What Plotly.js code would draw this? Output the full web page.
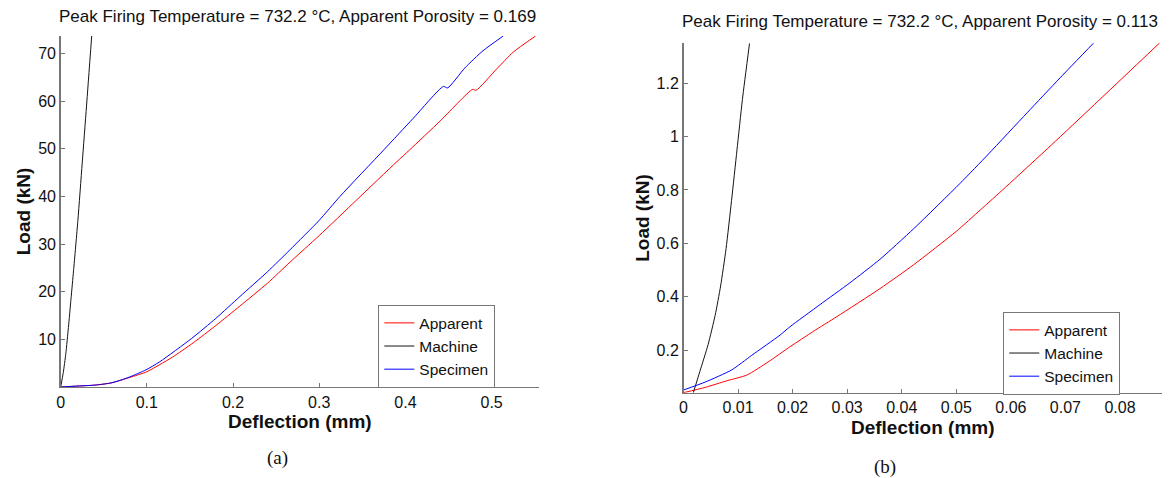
<!DOCTYPE html>
<html>
<head>
<meta charset="utf-8">
<script src="https://cdn.plot.ly/plotly-3.0.1.min.js"></script>
<style>html,body{margin:0;padding:0;background:#fff}#chart{width:1171px;height:478px}</style>
</head>
<body>
<div id="chart"></div>
<script>
// ---- Panel (a): porosity 0.169 ----
const a_app_x = [0, 0.02, 0.04, 0.06, 0.08, 0.1, 0.115, 0.13, 0.154, 0.18, 0.208, 0.24, 0.266, 0.3, 0.343, 0.39, 0.405, 0.44, 0.478, 0.482, 0.506, 0.525, 0.551];
const a_app_y = [0, 0.2, 0.4, 0.9, 2.0, 3.2, 4.7, 6.3, 9.3, 12.9, 17.0, 21.8, 26.2, 31.8, 39.2, 47.3, 49.8, 55.8, 62.5, 62.3, 66.8, 70.3, 73.7];
const a_mac_x = [0, 0.003, 0.006, 0.009, 0.012, 0.015, 0.02, 0.025, 0.03, 0.036];
const a_mac_y = [0, 3, 7, 12.5, 18.5, 24.5, 35, 47, 59, 73.7];
const a_spe_x = [0, 0.02, 0.04, 0.057, 0.069, 0.08, 0.099, 0.115, 0.152, 0.18, 0.208, 0.24, 0.266, 0.3, 0.324, 0.375, 0.409, 0.444, 0.449, 0.469, 0.49, 0.5135];
const a_spe_y = [0, 0.2, 0.4, 0.8, 1.4, 2.1, 3.6, 5.3, 10.2, 14.4, 19.0, 24.2, 28.8, 35.0, 40.0, 49.8, 56.4, 63.1, 62.8, 67.0, 70.6, 73.7];
const a_xticks = [0, 0.1, 0.2, 0.3, 0.4, 0.5];
const a_yticks = [10, 20, 30, 40, 50, 60, 70];

// ---- Panel (b): porosity 0.113 ----
const b_app_x = [0, 0.004, 0.008, 0.0116, 0.0155, 0.0195, 0.0238, 0.0281, 0.036, 0.0422, 0.05, 0.0544, 0.059, 0.0675, 0.0753, 0.0875];
const b_app_y = [0.04, 0.06, 0.085, 0.106, 0.155, 0.212, 0.27, 0.325, 0.43, 0.52, 0.645, 0.725, 0.81, 0.97, 1.12, 1.356];
const b_mac_x = [0.0018, 0.003, 0.0045, 0.0058, 0.0068, 0.0078, 0.0088, 0.0098, 0.0108, 0.0121];
const b_mac_y = [0.04, 0.12, 0.22, 0.33, 0.44, 0.58, 0.76, 0.95, 1.14, 1.35];
const b_spe_x = [0, 0.004, 0.0088, 0.0125, 0.0177, 0.0195, 0.025, 0.0305, 0.036, 0.0422, 0.0507, 0.0559, 0.063, 0.069, 0.0754];
const b_spe_y = [0.05, 0.08, 0.125, 0.18, 0.256, 0.287, 0.37, 0.452, 0.54, 0.655, 0.825, 0.935, 1.09, 1.22, 1.356];
const b_xticks = [0, 0.01, 0.02, 0.03, 0.04, 0.05, 0.06, 0.07, 0.08];
const b_yticks = [0.2, 0.4, 0.6, 0.8, 1, 1.2];

const seriesNames = ['Apparent', 'Machine', 'Specimen'];
const titleA = 'Peak Firing Temperature = 732.2 °C, Apparent Porosity = 0.169';
const titleB = 'Peak Firing Temperature = 732.2 °C, Apparent Porosity = 0.113';
const xTitle = 'Deflection (mm)';
const yTitle = 'Load (kN)';

const RED = 'rgb(255,0,0)', BLK = 'rgb(20,20,20)', BLU = 'rgb(0,0,255)';
const FONT = 'Liberation Sans, Arial, sans-serif';
const AX = '#777';

function tr(x, y, name, color, xa, ya, lg) {
  return {x: x, y: y, name: name, type: 'scatter', mode: 'lines',
          line: {color: color, width: 1, shape: 'spline', smoothing: 0.6},
          xaxis: xa, yaxis: ya, legend: lg};
}

const data = [
  tr(a_app_x, a_app_y, seriesNames[0], RED, 'x', 'y', 'legend'),
  tr(a_mac_x, a_mac_y, seriesNames[1], BLK, 'x', 'y', 'legend'),
  tr(a_spe_x, a_spe_y, seriesNames[2], BLU, 'x', 'y', 'legend'),
  tr(b_app_x, b_app_y, seriesNames[0], RED, 'x2', 'y2', 'legend2'),
  tr(b_mac_x, b_mac_y, seriesNames[1], BLK, 'x2', 'y2', 'legend2'),
  tr(b_spe_x, b_spe_y, seriesNames[2], BLU, 'x2', 'y2', 'legend2')
];

function axis(extra) {
  return Object.assign({
    showline: true, linecolor: AX, linewidth: 1.5, mirror: false,
    showgrid: false, zeroline: false, ticks: 'inside', ticklen: 4,
    tickcolor: AX, tickwidth: 1, tickmode: 'array',
    tickfont: {family: FONT, size: 16, color: '#111'}
  }, extra);
}
const TFONT = {family: FONT, size: 19, color: '#111'};

const legendBase = {
  bgcolor: '#fff', bordercolor: '#777', borderwidth: 1.3,
  font: {family: FONT, size: 15.5, color: '#111'},
  xanchor: 'left', yanchor: 'top', tracegroupgap: 0
};

const layout = {
  width: 1171, height: 478,
  margin: {l: 0, r: 0, t: 0, b: 0},
  paper_bgcolor: '#fff', plot_bgcolor: '#fff',
  font: {family: FONT},
  showlegend: true,
  xaxis: axis({domain: [0.0518, 0.4603], range: [0, 0.555], anchor: 'y',
    tickvals: a_xticks, ticktext: a_xticks.map(String),
    title: {text: '<b>' + xTitle + '</b>', font: TFONT, standoff: 3}}),
  yaxis: axis({domain: [0.1904, 0.9247], range: [0, 73.7], anchor: 'x',
    tickvals: a_yticks, ticktext: a_yticks.map(String),
    title: {text: '<b>' + yTitle + '</b>', font: TFONT, standoff: 2}}),
  xaxis2: axis({domain: [0.5837, 0.9923], range: [0, 0.0877], anchor: 'y2',
    tickvals: b_xticks, ticktext: b_xticks.map(String),
    title: {text: '<b>' + xTitle + '</b>', font: TFONT, standoff: 5}}),
  yaxis2: axis({domain: [0.1785, 0.9094], range: [0.04, 1.35], anchor: 'x2',
    tickvals: b_yticks, ticktext: b_yticks.map(String),
    title: {text: '<b>' + yTitle + '</b>', font: TFONT, standoff: 2}}),
  legend: Object.assign({}, legendBase, {x: 0.3228, y: 1 - 305/478}),
  legend2: Object.assign({}, legendBase, {x: 0.8565, y: 1 - 312/478}),
  annotations: [
    {text: titleA, xref: 'paper', yref: 'paper', x: 297/1171, y: 1 - 17/478, xanchor: 'center', yanchor: 'middle',
     showarrow: false, font: {family: FONT, size: 17, color: '#111'}},
    {text: titleB, xref: 'paper', yref: 'paper', x: 920/1171, y: 1 - 22/478, xanchor: 'center', yanchor: 'middle',
     showarrow: false, font: {family: FONT, size: 17, color: '#111'}},
    {text: '(a)', xref: 'paper', yref: 'paper', x: 277/1171, y: 1 - 458/478, xanchor: 'center', yanchor: 'middle',
     showarrow: false, font: {family: 'Liberation Serif, Times New Roman, serif', size: 19, color: '#111'}},
    {text: '(b)', xref: 'paper', yref: 'paper', x: 885/1171, y: 1 - 467/478, xanchor: 'center', yanchor: 'middle',
     showarrow: false, font: {family: 'Liberation Serif, Times New Roman, serif', size: 19, color: '#111'}}
  ]
};

Plotly.newPlot('chart', data, layout, {staticPlot: true, displayModeBar: false});
</script>
</body>
</html>
